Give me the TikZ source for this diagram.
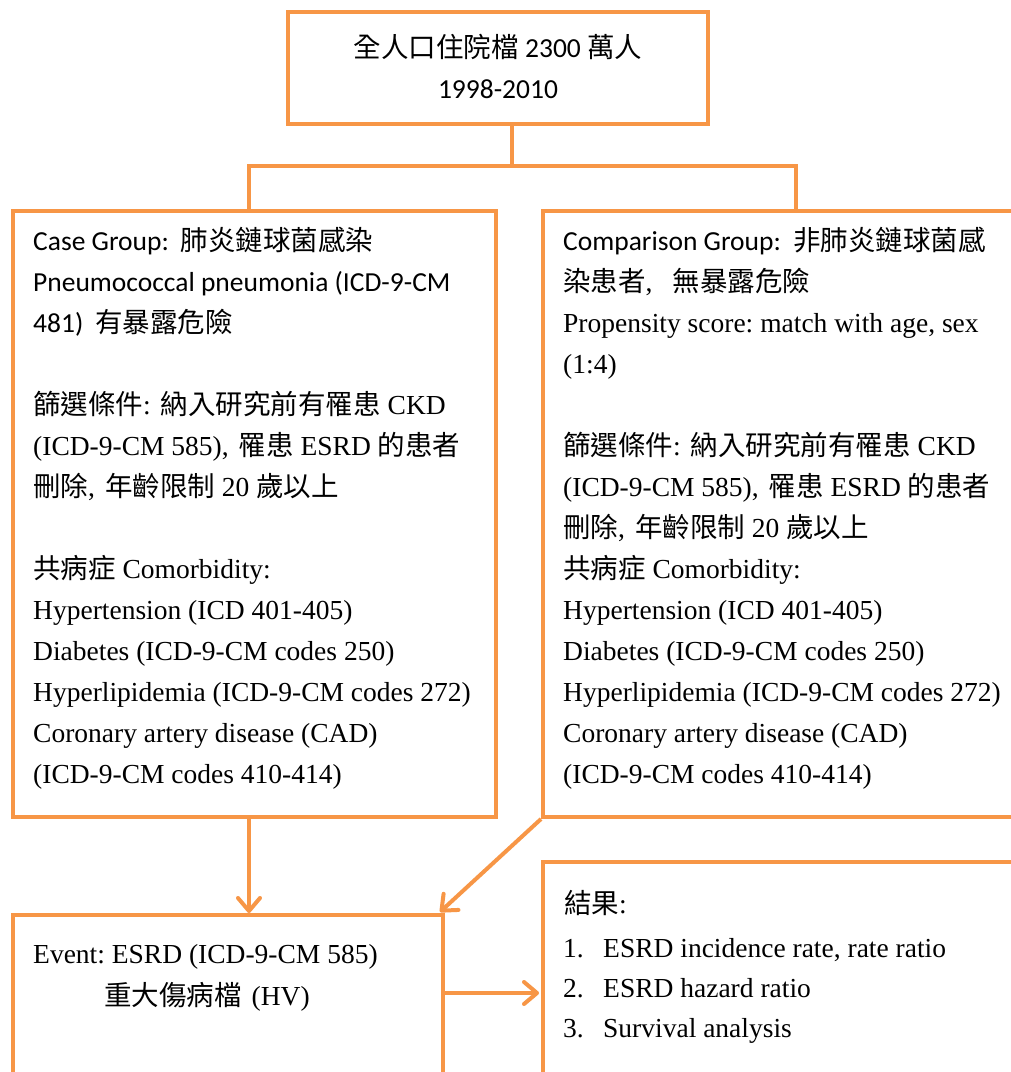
\documentclass[tikz,border=0pt]{standalone}
\usepackage{fontspec}
\setmainfont{Liberation Serif}
\newfontfamily\cjkfont{Noto Sans CJK TC}
\newfontfamily\calfont{Carlito}
\usetikzlibrary{arrows.meta,calc}
\definecolor{orng}{HTML}{F79646}
\newcommand\zhx[1]{{\cjkfont #1}}
\frenchspacing
\begin{document}
\begin{tikzpicture}[x=1pt,y=-1pt,
  box/.style={draw=orng, line width=4pt, rectangle, inner sep=0pt, fill=white},
  ln/.style={draw=orng, line width=4pt},
  arr/.style={ln, -{Straight Barb[length=13pt,width=22pt,line width=4pt,round]}},
  txt/.style={anchor=base west, inner sep=0pt, font=\fontsize{27.5}{41}\selectfont},
  ctxt/.style={anchor=base, inner sep=0pt, font=\fontsize{27.5}{41}\selectfont\calfont},
]
\useasboundingbox (0,0) rectangle (1011,1072);
\fill[white] (0,0) rectangle (1011,1072);

% boxes
\node[box, minimum width=420pt, minimum height=112pt] (top) at (498,68) {};
\node[box, minimum width=483pt, minimum height=606pt] (left) at (254.5,514) {};
\node[box, minimum width=487pt, minimum height=606pt] (right) at (786.5,514) {};
\node[box, minimum width=430pt, minimum height=185pt] (bl) at (228,1007.5) {};
\node[box, minimum width=497pt, minimum height=238pt] (br) at (791.5,981) {};

% connectors
\coordinate (jt) at (512,166);
\coordinate (jl) at (249,166);
\coordinate (jr) at (796,166);
\draw[ln] (top.south -| jt) -- (jt);
\draw[ln] (left.north -| jl) -- (jl) -- (jr) -- (right.north -| jr);
\coordinate (a1) at (249,0);
\draw[arr] (left.south -| a1) -- (bl.north -| a1);
\draw[arr] (right.south west) -- ($(bl.north east)+(-5,-1)$);
\coordinate (a3) at (0,993);
\draw[arr] (bl.east |- a3) -- ($(br.west |- a3)+(-2,0)$);

% top text
\node[ctxt] (t1) at (498,57) {\zhx{全人口住院檔} 2300 \zhx{萬人}};
\node[ctxt] (t2) at (498,98) {1998-2010};

% left box text
\node[txt] (l1) at (33,250) {\calfont Case Group:\hspace{12pt}\zhx{肺炎鏈球菌感染}};
\node[txt] (l2) at (33,291) {\calfont Pneumococcal pneumonia (ICD-9-CM};
\node[txt] (l3) at (33,332) {\calfont 481)\hspace{12pt}\zhx{有暴露危險}};
\node[txt] (l4) at (33,414) {\zhx{篩選條件}:\hspace{10pt}\zhx{納入研究前有罹患} CKD};
\node[txt] (l5) at (33,455) {(ICD-9-CM 585),\hspace{10pt}\zhx{罹患} ESRD \zhx{的患者}};
\node[txt] (l6) at (33,496) {\zhx{刪除},\hspace{10pt}\zhx{年齡限制} 20 \zhx{歲以上}};
\node[txt] (l7) at (33,578) {\zhx{共病症} Comorbidity:};
\node[txt] (l8) at (33,619) {Hypertension (ICD 401-405)};
\node[txt] (l9) at (33,660) {Diabetes (ICD-9-CM codes 250)};
\node[txt] (l10) at (33,701) {Hyperlipidemia (ICD-9-CM codes 272)};
\node[txt] (l11) at (33,742) {Coronary artery disease (CAD)};
\node[txt] (l12) at (33,783) {(ICD-9-CM codes 410-414)};

% right box text
\node[txt] (r1) at (563,250) {\calfont Comparison Group:\hspace{12pt}\zhx{非肺炎鏈球菌感}};
\node[txt] (r2) at (563,291) {\zhx{染患者},\hspace{20pt}\zhx{無暴露危險}};
\node[txt] (r3) at (563,332) {Propensity score: match with age, sex};
\node[txt] (r4) at (563,373) {(1:4)};
\node[txt] (r5) at (563,455) {\zhx{篩選條件}:\hspace{10pt}\zhx{納入研究前有罹患} CKD};
\node[txt] (r6) at (563,496) {(ICD-9-CM 585),\hspace{10pt}\zhx{罹患} ESRD \zhx{的患者}};
\node[txt] (r7) at (563,537) {\zhx{刪除},\hspace{10pt}\zhx{年齡限制} 20 \zhx{歲以上}};
\node[txt] (r8) at (563,578) {\zhx{共病症} Comorbidity:};
\node[txt] (r9) at (563,619) {Hypertension (ICD 401-405)};
\node[txt] (r10) at (563,660) {Diabetes (ICD-9-CM codes 250)};
\node[txt] (r11) at (563,701) {Hyperlipidemia (ICD-9-CM codes 272)};
\node[txt] (r12) at (563,742) {Coronary artery disease (CAD)};
\node[txt] (r13) at (563,783) {(ICD-9-CM codes 410-414)};

% bottom-left text
\node[txt] (e1) at (33,963) {Event: ESRD (ICD-9-CM 585)};
\node[txt] (e2) at (104,1005) {\zhx{重大傷病檔}\hspace{10pt}(HV)};

% bottom-right text
\node[txt] (o0) at (564,913) {\zhx{結果}:};
\node[txt] (o1n) at (563,957) {1.};
\node[txt] (o1) at (603,957) {ESRD incidence rate, rate ratio};
\node[txt] (o2n) at (563,997) {2.};
\node[txt] (o2) at (603,997) {ESRD hazard ratio};
\node[txt] (o3n) at (563,1037) {3.};
\node[txt] (o3) at (603,1037) {Survival analysis};
\end{tikzpicture}
\end{document}
